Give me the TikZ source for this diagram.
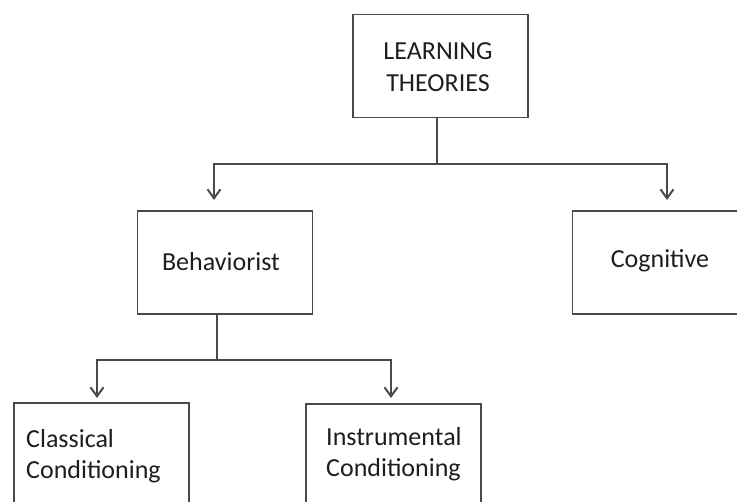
\documentclass[tikz,border=0pt]{standalone}
\usepackage{fontspec}
\setmainfont{Carlito}
\usetikzlibrary{arrows.meta}
\definecolor{edge}{HTML}{4A4A4A}
\definecolor{ink}{HTML}{1E1E1E}
\begin{document}
\begin{tikzpicture}[x=1pt,y=-1pt,
  box/.style={draw=edge, line width=1.9pt, minimum width=175pt, minimum height=103pt, inner sep=0pt},
  label/.style={text=ink, font=\fontsize{26}{31.5}\selectfont, inner sep=0pt},
  link/.style={draw=edge, line width=1.9pt},
  arr/.style={link, -{Straight Barb[length=9pt,width=13pt,line width=2pt]}}]
\useasboundingbox (0,0) rectangle (737,502);
\clip (0,0) rectangle (737,502);

% boxes
\node[box] (top) at (440.5,66) {};
\node[box] (beh) at (225,262.5) {};
\node[box] (cog) at (660,262.5) {};
\node[box, anchor=north west] (cla) at (13,402) {};
\node[box, anchor=north west] (ins) at (305,403) {};

% texts
\node[label, align=center] (ttop) at (438,67) {LEARNING\\THEORIES};
\node[label] (tbeh) at (221,262) {Behaviorist};
\node[label] (tcog) at (660,261) {Cognitive};
\node[label, align=left, anchor=north west] (tcla) at (26,429) {Classical\\Conditioning};
\node[label, align=left, anchor=north west] (tins) at (326,427) {Instrumental\\Conditioning};

% branch points and arrow ends
\coordinate (j1) at (437,164);
\coordinate (j2) at (217,360);
\coordinate (a1) at (214,200);
\coordinate (a2) at (667,200);
\coordinate (a3) at (97,398);
\coordinate (a4) at (391,398);

% connectors
\draw[link] (top.south -| j1) -- (j1);
\draw[arr] (j1) -| (a1);
\draw[arr] (j1) -| (a2);
\draw[link] (beh.south -| j2) -- (j2);
\draw[arr] (j2) -| (a3);
\draw[arr] (j2) -| (a4);
\end{tikzpicture}
\end{document}
